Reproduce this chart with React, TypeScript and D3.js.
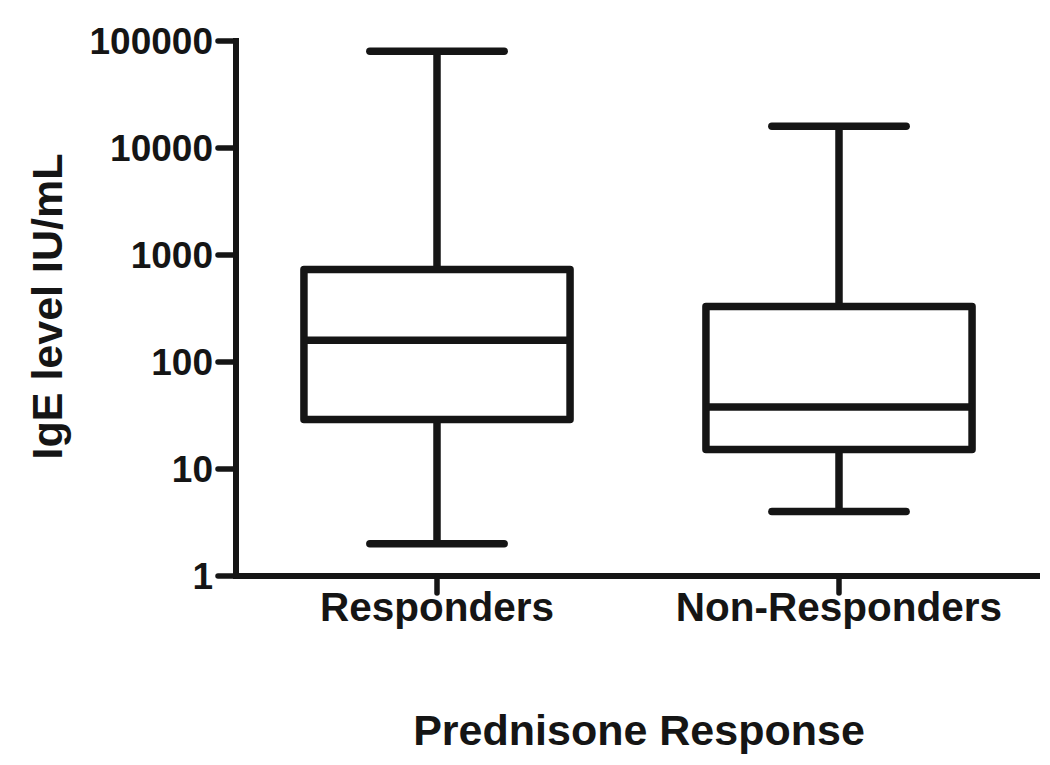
import React from "react";
import * as d3 from "d3";

const categories = ["Responders", "Non-Responders"];
const whiskerMin = [2, 4];
const q1 = [29, 15.2];
const median = [160, 38];
const q3 = [730, 330];
const whiskerMax = [80000, 16000];
const yTicks = [1, 10, 100, 1000, 10000, 100000];

const W = 1050;
const H = 765;
const INK = "#151515";
const FONT = "'Liberation Sans', Arial, Helvetica, sans-serif";

export default function App() {
  const y = d3.scaleLog().domain([1, 100000]).range([576, 41]);
  const x = d3.scaleBand<string>().domain(categories).range([236, 1040]).padding(0);
  const bw = x.bandwidth();
  const boxHalf = bw * 0.331;
  const capHalf = bw * 0.167;
  const xAxisY = y(1);
  const yAxisX = 236;
  const fmt = d3.format("d");

  return (
    <div style={{ position: "absolute", left: 0, top: 0 }}>
      <svg width={W} height={H} style={{ display: "block", background: "#fff" }}>
        <rect x={0} y={0} width={W} height={H} fill="#fff" />
        {/* Y axis */}
        <line x1={yAxisX} x2={yAxisX} y1={y(100000) - 3} y2={xAxisY + 3} stroke={INK} strokeWidth={6} />
        {yTicks.map((t) => (
          <g key={t}>
            <line x1={yAxisX - 18} x2={yAxisX} y1={y(t)} y2={y(t)} stroke={INK} strokeWidth={5.5} strokeLinecap="round" />
            <text
              x={213}
              y={y(t)}
              dy="0.36em"
              textAnchor="end"
              fontFamily={FONT}
              fontWeight="bold"
              fontSize={37}
              fill={INK}
            >
              {fmt(t)}
            </text>
          </g>
        ))}
        {/* X axis */}
        <line x1={yAxisX - 3} x2={1040} y1={xAxisY} y2={xAxisY} stroke={INK} strokeWidth={6} />
        {categories.map((c) => {
          const cx = (x(c) as number) + bw / 2;
          return (
            <g key={c}>
              <line x1={cx} x2={cx} y1={xAxisY} y2={593} stroke={INK} strokeWidth={5.5} strokeLinecap="round" />
              <text
                x={cx}
                y={621}
                textAnchor="middle"
                fontFamily={FONT}
                fontWeight="bold"
                fontSize={40.5}
                fill={INK}
              >
                {c}
              </text>
            </g>
          );
        })}
        {/* Boxes */}
        {categories.map((c, i) => {
          const cx = (x(c) as number) + bw / 2;
          return (
            <g key={"box" + c} stroke={INK} strokeWidth={7.5} fill="none">
              <line x1={cx} x2={cx} y1={y(whiskerMax[i])} y2={y(q3[i])} />
              <line x1={cx} x2={cx} y1={y(q1[i])} y2={y(whiskerMin[i])} />
              <line x1={cx - capHalf} x2={cx + capHalf} y1={y(whiskerMax[i])} y2={y(whiskerMax[i])} strokeLinecap="round" />
              <line x1={cx - capHalf} x2={cx + capHalf} y1={y(whiskerMin[i])} y2={y(whiskerMin[i])} strokeLinecap="round" />
              <rect
                x={cx - boxHalf}
                y={y(q3[i])}
                width={boxHalf * 2}
                height={y(q1[i]) - y(q3[i])}
                fill="#fff"
                strokeLinejoin="round"
              />
              <line x1={cx - boxHalf} x2={cx + boxHalf} y1={y(median[i])} y2={y(median[i])} />
            </g>
          );
        })}
        {/* Axis titles */}
        <text
          x={639}
          y={745}
          textAnchor="middle"
          fontFamily={FONT}
          fontWeight="bold"
          fontSize={43}
          fill={INK}
        >
          Prednisone Response
        </text>
        <text
          transform={`translate(62, ${(y(1) + y(100000)) / 2 - 2}) rotate(-90)`}
          textAnchor="middle"
          fontFamily={FONT}
          fontWeight="bold"
          fontSize={43}
          fill={INK}
        >
          IgE level IU/mL
        </text>
      </svg>
    </div>
  );
}
